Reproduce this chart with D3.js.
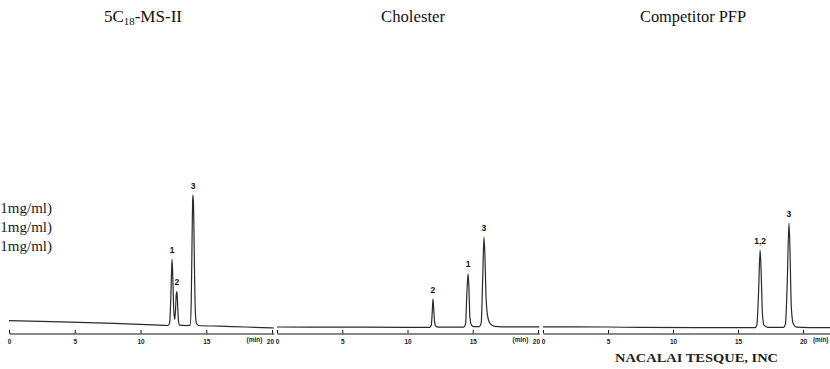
<!DOCTYPE html>
<html>
<head>
<meta charset="utf-8">
<script src="https://cdn.jsdelivr.net/npm/d3@7/dist/d3.min.js"></script>
<style>
  html, body { margin: 0; padding: 0; background: #fff; }
  svg { display: block; }
</style>
</head>
<body>
<svg id="chart" width="830" height="369"></svg>
<script>
// ---- Data ----
const titles = ["5C", "Cholester", "Competitor PFP"];
const sampleLines = ["1mg/ml)", "1mg/ml)", "1mg/ml)"];
const footer = "NACALAI TESQUE, INC";
const tickValues = [0, 5, 10, 15, 20];
const tickLabels = ["0", "5", "10", "15", "20"];
const unitLabel = "(min)";

// Panel 1: 5C18-MS-II (time in min, signal in arbitrary units)
const p1Time   = [0, 4, 8, 11, 12.1, 12.22, 12.3, 12.36, 12.4, 12.45, 12.52, 12.6, 12.66, 12.72, 12.77, 12.81, 12.88, 12.97, 13.5, 13.78, 13.86, 13.93, 13.97, 14.0, 14.04, 14.1, 14.17, 14.25, 14.4, 16, 18, 20.15];
const p1Signal = [5.2, 4.4, 3.3, 2.2, 1.8, 4, 20, 40, 49, 38, 15, 6, 12, 24, 26, 20, 6, 2, 1.7, 2, 20, 70, 92, 95, 85, 45, 12, 3.5, 1.8, 1.3, 0.7, 0];
const p1PeakNames = ["1", "2", "3"];
const p1PeakTimes = [12.4, 12.77, 14.0];

// Panel 2: Cholester
const p2Time   = [0, 5, 10, 11.7, 11.82, 11.9, 11.95, 12.0, 12.08, 12.2, 12.5, 14.3, 14.45, 14.55, 14.64, 14.7, 14.78, 14.9, 15.05, 15.5, 15.65, 15.76, 15.86, 15.93, 16.02, 16.15, 16.35, 16.7, 18, 20.1];
const p2Signal = [0.7, 0.6, 0.5, 0.5, 2, 12, 20.7, 15, 4, 1, 0.6, 0.6, 3, 25, 38.6, 30, 8, 2, 1, 1, 4, 35, 65, 52, 22, 8, 3, 1.2, 0.8, 0.8];
const p2PeakNames = ["2", "1", "3"];
const p2PeakTimes = [11.95, 14.64, 15.86];

// Panel 3: Competitor PFP
const p3Time   = [0, 5, 7.5, 12, 16.3, 16.45, 16.58, 16.7, 16.78, 16.88, 17.0, 17.3, 18.5, 18.65, 18.78, 18.92, 19.0, 19.1, 19.25, 19.5, 20.5, 22.2];
const p3Signal = [0.8, 0.7, 0.4, 0.3, 0.3, 2, 25, 55.7, 40, 10, 2, 0.4, 0.4, 3, 30, 75, 55, 15, 3, 0.6, 0.3, 0.3];
const p3PeakNames = ["1,2", "3"];
const p3PeakTimes = [16.7, 18.92];

// ---- Layout ----
const svg = d3.select("#chart");
const panels = [
  { time: p1Time, signal: p1Signal, names: p1PeakNames, peaks: p1PeakTimes, x0: 9,   w20: 263, unitSide: "left"  },
  { time: p2Time, signal: p2Signal, names: p2PeakNames, peaks: p2PeakTimes, x0: 277, w20: 261, unitSide: "left"  },
  { time: p3Time, signal: p3Signal, names: p3PeakNames, peaks: p3PeakTimes, x0: 543, w20: 260, unitSide: "right" }
];
const axisY = 333.5;
const y = d3.scaleLinear().domain([0, 100]).range([328, 188]);
const sans = "Liberation Sans, Arial, sans-serif";

panels.forEach((p, i) => {
  const tMax = d3.max(p.time);
  const x = d3.scaleLinear().domain([0, tMax]).range([p.x0, p.x0 + p.w20 * tMax / 20]);

  // axis
  const axis = d3.axisBottom(x)
    .tickValues(tickValues)
    .tickFormat((d, k) => tickLabels[k])
    .tickSizeInner(-3.5)
    .tickSizeOuter(0)
    .tickPadding(6);
  const g = svg.append("g").attr("transform", `translate(0,${axisY})`).call(axis);
  g.select(".domain").attr("stroke", "#111").attr("stroke-width", 1);
  g.selectAll(".tick line").attr("stroke", "#111").attr("stroke-width", 1);
  g.selectAll(".tick text")
    .attr("font-family", sans)
    .attr("font-size", 6.5).attr("font-weight", "bold").attr("fill", "#222");
  if (p.unitSide === "left") {
    g.selectAll(".tick text").filter(d => d === 20).attr("text-anchor", "end").attr("dx", 1.5);
    g.append("text")
      .attr("x", x(20) - 9.5).attr("y", 8.5)
      .attr("text-anchor", "end")
      .attr("font-family", sans)
      .attr("font-size", 6.5).attr("font-weight", "bold").attr("fill", "#222")
      .text(unitLabel);
  } else {
    g.append("text")
      .attr("x", x(20) + 10).attr("y", 8.6)
      .attr("text-anchor", "start")
      .attr("font-family", sans)
      .attr("font-size", 6.3).attr("font-weight", "bold").attr("fill", "#222")
      .text(unitLabel);
  }

  // chromatogram trace
  const pts = p.time.map((t, k) => [t, p.signal[k]]);
  const line = d3.line().x(d => x(d[0])).y(d => y(d[1])).curve(d3.curveMonotoneX);
  svg.append("path").datum(pts)
    .attr("d", line)
    .attr("fill", "none")
    .attr("stroke", "#2a2a2a")
    .attr("stroke-width", 1.2)
    .attr("stroke-linejoin", "round");

  // peak labels
  p.peaks.forEach((t, k) => {
    const idx = p.time.indexOf(t);
    svg.append("text")
      .attr("x", x(t)).attr("y", y(p.signal[idx]) - 6.5)
      .attr("text-anchor", "middle")
      .attr("font-family", sans)
      .attr("font-size", 8.5).attr("font-weight", "bold").attr("fill", "#111")
      .text(p.names[k]);
  });
});

// titles
const serif = "Liberation Serif, Times New Roman, serif";
const t1 = svg.append("text").attr("x", 104).attr("y", 22)
  .attr("font-family", serif).attr("font-size", 16.5).attr("fill", "#111")
  .attr("textLength", 78).attr("lengthAdjust", "spacingAndGlyphs");
t1.append("tspan").text(titles[0]);
t1.append("tspan").attr("font-size", 10.5).attr("dy", 3).text("18");
t1.append("tspan").attr("dy", -3).text("-MS-II");
svg.append("text").attr("x", 381).attr("y", 22)
  .attr("font-family", serif).attr("font-size", 16.5).attr("fill", "#111")
  .attr("textLength", 64).attr("lengthAdjust", "spacingAndGlyphs")
  .text(titles[1]);
svg.append("text").attr("x", 640).attr("y", 22)
  .attr("font-family", serif).attr("font-size", 16.5).attr("fill", "#111")
  .attr("textLength", 106).attr("lengthAdjust", "spacingAndGlyphs")
  .text(titles[2]);

// sample list (cut off at left edge)
sampleLines.forEach((s, k) => {
  svg.append("text")
    .attr("x", 52).attr("y", 213 + k * 19)
    .attr("text-anchor", "end")
    .attr("font-family", serif).attr("font-size", 15).attr("fill", "#222")
    .text(s);
});

// footer
svg.append("text").attr("x", 615).attr("y", 362)
  .attr("font-family", serif).attr("font-size", 13.5).attr("font-weight", "bold").attr("fill", "#222")
  .attr("textLength", 163).attr("lengthAdjust", "spacingAndGlyphs")
  .text(footer);
</script>
</body>
</html>
